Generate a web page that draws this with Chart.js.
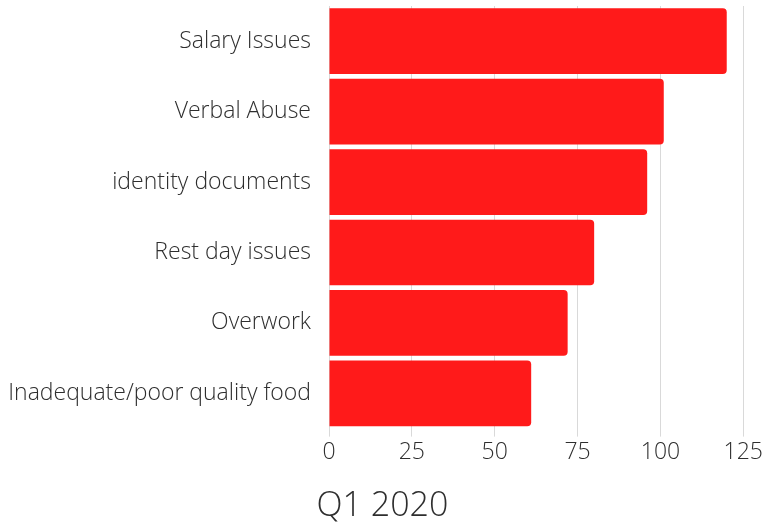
<!DOCTYPE html>
<html>
<head>
<meta charset="utf-8">
<script src="https://cdn.jsdelivr.net/npm/chart.js@4/dist/chart.umd.min.js"></script>
<style>
html,body{margin:0;padding:0;background:#fff;}
#wrap{width:765px;height:522px;position:relative;}
</style>
</head>
<body>
<div id="wrap"><canvas id="c"></canvas></div>
<script>
const categories = ["Salary Issues","Verbal Abuse","identity documents","Rest day issues","Overwork","Inadequate/poor quality food"];
const counts = [120,101,96,80,72,61];
const xTicks = [0,25,50,75,100,125];
const titleText = "Q1 2020";

new Chart(document.getElementById('c'), {
  type: 'bar',
  data: {
    labels: categories,
    datasets: [{
      data: counts,
      backgroundColor: '#ff1a1a',
      borderWidth: 0,
      borderRadius: {topRight:4, bottomRight:4, topLeft:0, bottomLeft:0},
      borderSkipped: 'left',
      barPercentage: 1.0,
      categoryPercentage: 0.933
    }]
  },
  options: {
    indexAxis: 'y',
    responsive: true,
    maintainAspectRatio: false,
    animation: false,
    layout: {padding: {top: 6, right: 0, left: 0, bottom: 0}},
    plugins: {
      legend: {display: false},
      tooltip: {enabled: false},
      title: {
        display: true,
        text: titleText,
        position: 'bottom',
        align: 'center',
        color: '#2e2e2e',
        font: {family: 'Open Sans', weight: 300, size: 34},
        padding: {top: 18, bottom: -5}
      }
    },
    scales: {
      x: {
        min: 0, max: 125,
        afterBuildTicks: (axis) => { axis.ticks = xTicks.map(v => ({value: v})); },
        grid: {color: '#d9d9d9', drawTicks: true, tickLength: 8, lineWidth: 1},
        border: {display: false},
        ticks: {color: '#2e2e2e', font: {family: 'Open Sans', weight: 300, size: 23}, padding: 2}
      },
      y: {
        grid: {display: false, drawTicks: false},
        border: {display: false},
        afterFit: (axis) => { axis.paddingTop = 0; axis.paddingBottom = 0; axis.width = 329; },
        ticks: {color: '#2e2e2e', font: {family: 'Open Sans', weight: 300, size: 23}, padding: 18}
      }
    }
  }
});
</script>
</body>
</html>
